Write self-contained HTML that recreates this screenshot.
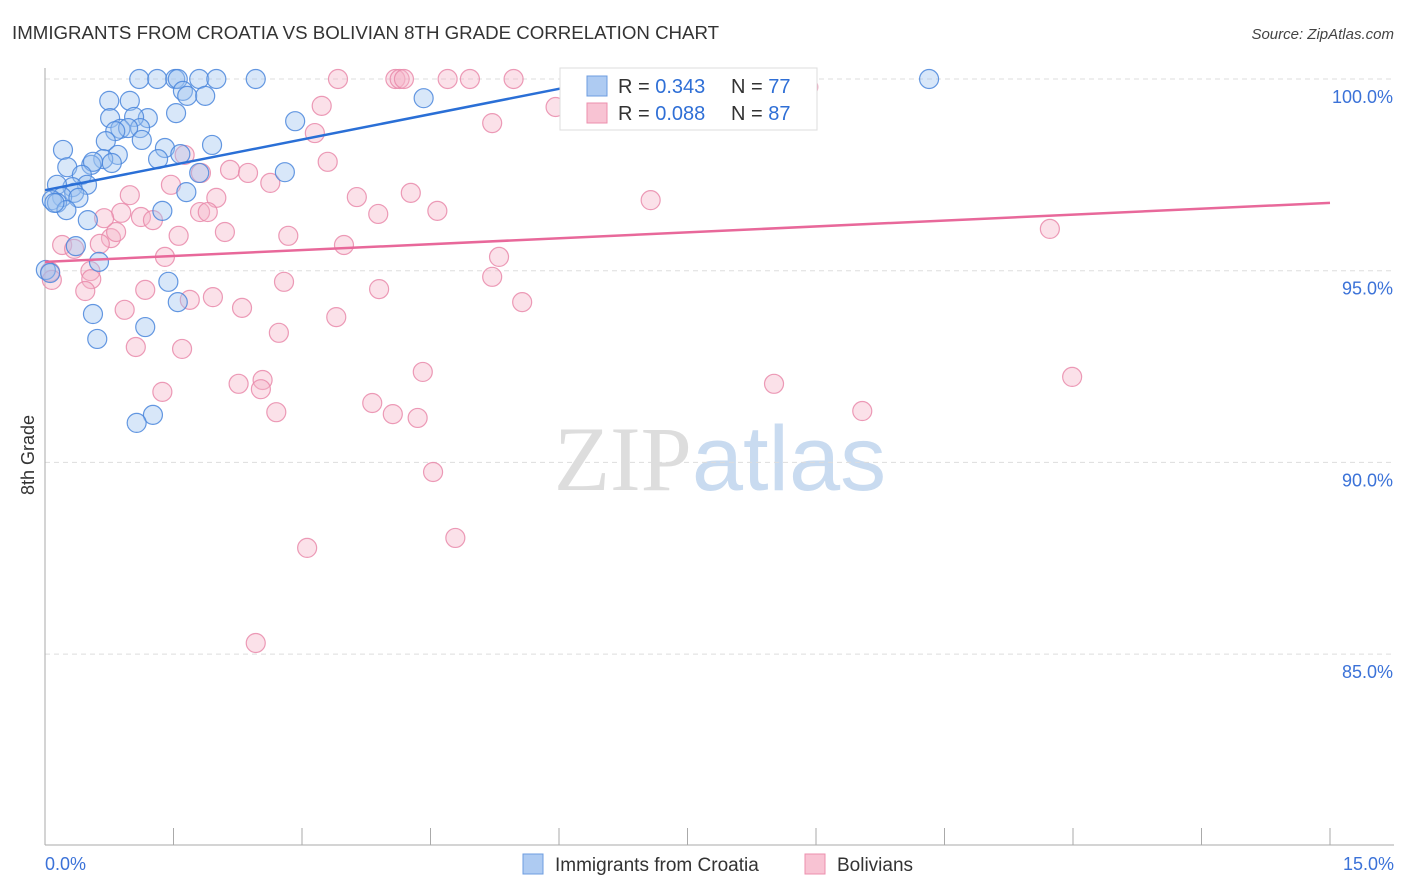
<!DOCTYPE html>
<html><head><meta charset="utf-8"><style>
body{margin:0;background:#fff;font-family:"Liberation Sans",sans-serif}
svg{display:block}
</style></head><body>
<svg id="chart" width="1406" height="892" xmlns="http://www.w3.org/2000/svg" font-family="Liberation Sans, sans-serif">
<text x="12" y="39" font-size="18.7" fill="#333">IMMIGRANTS FROM CROATIA VS BOLIVIAN 8TH GRADE CORRELATION CHART</text>
<text x="1394" y="39" font-size="15" fill="#444" font-style="italic" text-anchor="end">Source: ZipAtlas.com</text>
<text x="720" y="490" font-size="92" text-anchor="middle"><tspan fill="#ddd" font-family="Liberation Serif, serif">ZIP</tspan><tspan fill="#c9dbf0">atlas</tspan></text>
<text transform="translate(34,455) rotate(-90)" font-size="18" fill="#333" text-anchor="middle">8th Grade</text>
<g id="grid"></g><g id="axes"></g><g id="pts"></g><g id="trends"></g>
<g>
<rect x="560" y="68" width="257" height="62" fill="#fff" stroke="#ddd"/>
<rect x="587" y="76" width="20" height="20" fill="#aecbf2" stroke="#6d9de0"/>
<text x="618" y="93" font-size="20" fill="#333">R = <tspan fill="#2f6fd6">0.343</tspan></text>
<text x="731" y="93" font-size="20" fill="#333">N = <tspan fill="#2f6fd6">77</tspan></text>
<rect x="587" y="103" width="20" height="20" fill="#f8c3d3" stroke="#ec8fae"/>
<text x="618" y="120" font-size="20" fill="#333">R = <tspan fill="#2f6fd6">0.088</tspan></text>
<text x="731" y="120" font-size="20" fill="#333">N = <tspan fill="#2f6fd6">87</tspan></text>
</g>
<g>
<rect x="523" y="854" width="20" height="20" fill="#aecbf2" stroke="#6d9de0"/>
<text x="555" y="871" font-size="19" fill="#333">Immigrants from Croatia</text>
<rect x="805" y="854" width="20" height="20" fill="#f8c3d3" stroke="#ec8fae"/>
<text x="837" y="871" font-size="19" fill="#333">Bolivians</text>
</g>
</svg>
<script>
const xTicks=[0,1.5,3,4.5,6,7.5,9,10.5,12,13.5,15];
const yTicks=[100,95,90,85];
const yTickLabels=["100.0%","95.0%","90.0%","85.0%"];
const xEndLabels=["0.0%","15.0%"];
const croatiaX=[1.10,1.31,1.52,1.55,1.80,2.00,2.46,10.32,7.48,1.61,1.66,1.87,0.75,0.99,4.42,1.53,1.20,1.04,0.76,2.92,0.88,1.11,0.97,0.82,1.95,0.71,1.13,0.85,1.40,1.58,1.32,0.68,0.21,0.54,0.78,0.26,0.56,2.80,1.80,0.43,0.49,0.32,0.14,0.34,0.20,0.08,0.14,0.39,0.25,0.11,0.50,1.37,1.65,0.36,0.63,0.01,0.06,1.44,0.56,1.55,1.17,0.61,1.26,1.07];
const croatiaY=[100,100,100,100,100,100,100,100,100,99.69,99.56,99.56,99.43,99.43,99.50,99.11,98.98,99.01,98.98,98.90,98.70,98.72,98.72,98.64,98.28,98.38,98.41,98.02,98.20,98.04,97.91,97.91,98.15,97.76,97.81,97.70,97.84,97.57,97.55,97.50,97.24,97.18,97.24,97.03,96.92,96.84,96.77,96.90,96.58,96.77,96.32,96.56,97.05,95.64,95.23,95.02,94.94,94.71,93.87,94.18,93.53,93.22,91.24,91.03];
const bolX=[3.42,4.09,4.14,4.19,4.70,4.96,5.47,8.08,8.91,5.96,3.23,5.22,3.15,3.30,1.63,2.16,2.37,1.82,1.47,2.63,0.99,2.00,3.64,4.27,3.89,4.58,7.07,0.89,0.69,1.12,1.26,1.81,1.90,2.10,0.77,0.83,1.56,2.84,3.49,0.20,0.34,0.64,1.40,5.30,11.73,0.53,0.06,0.08,0.54,2.79,3.90,5.22,0.47,1.17,1.96,1.69,5.57,2.30,0.93,3.40,2.73,1.06,1.60,4.41,2.26,2.54,2.52,8.51,11.99,1.37,3.82,2.70,4.06,4.35,9.54,4.53,3.06,4.79,2.46];
const bolY=[100,100,100,100,100,100,100,100,99.79,99.27,99.30,98.85,98.59,97.84,98.02,97.63,97.55,97.55,97.24,97.29,96.97,96.90,96.92,97.03,96.48,96.56,96.84,96.51,96.37,96.40,96.32,96.53,96.53,96.01,95.85,96.01,95.91,95.91,95.67,95.67,95.57,95.70,95.36,95.36,96.09,94.99,94.97,94.76,94.78,94.71,94.52,94.84,94.47,94.50,94.31,94.24,94.18,94.03,93.98,93.79,93.38,93.01,92.96,92.36,92.05,92.15,91.91,92.05,92.23,91.84,91.55,91.31,91.26,91.16,91.34,89.75,87.77,88.03,85.29];
const croatiaTrend=[[0,97.1],[6.4,99.92]];
const bolTrend=[[0,95.23],[15,96.77]];
const NS="http://www.w3.org/2000/svg";
const X=v=>45+v/15*1285;
const Y=v=>79+(100-v)/5*191.7;
function mk(t,p,a){const e=document.createElementNS(NS,t);for(const k in a)e.setAttribute(k,a[k]);p.appendChild(e);return e;}
const grid=document.getElementById('grid'),axes=document.getElementById('axes'),pts=document.getElementById('pts'),tr=document.getElementById('trends');
yTicks.forEach((v,i)=>{
 const l=mk('line',grid,{x1:45,x2:1394,y1:Y(v),y2:Y(v),stroke:'#ddd','stroke-dasharray':'5,4'});
 
 
 const t=mk('text',axes,{x:1393,y:Y(v)+24,'font-size':18,fill:'#3b72d8','text-anchor':'end'});
 t.textContent=yTickLabels[i];
 
 
});
const ax=mk('line',axes,{x1:45,x2:45,y1:68,y2:845,stroke:'#aaa'});


const bx=mk('line',axes,{x1:45,x2:1394,y1:845,y2:845,stroke:'#aaa'});


xTicks.forEach(v=>{
 const l=mk('line',axes,{x1:X(v),x2:X(v),y1:828,y2:845,stroke:'#aaa'});
 
 
});
[[0,'start',45],[15,'end',1394]].forEach((d,i)=>{
 const t=mk('text',axes,{x:d[2],y:870,'font-size':18,fill:'#3b72d8','text-anchor':d[1]});
 t.textContent=xEndLabels[i];
 
 
});
function dots(xs,ys,fill,stroke,name){xs.forEach((x,i)=>{
 const c=mk('circle',pts,{cx:X(x),cy:Y(ys[i]),r:9.5,fill:fill,'fill-opacity':0.4,stroke:stroke,'stroke-width':1.2,'stroke-opacity':0.85});
 
 
});}
dots(bolX,bolY,'#f6b5c9','#e98aaa','point-bolivians');
dots(croatiaX,croatiaY,'#9dc2f0','#4a86dc','point-croatia');
const t1=mk('line',tr,{x1:X(croatiaTrend[0][0]),y1:Y(croatiaTrend[0][1]),x2:X(croatiaTrend[1][0]),y2:Y(croatiaTrend[1][1]),stroke:'#2a6fd6','stroke-width':2.5});


const t2=mk('line',tr,{x1:X(bolTrend[0][0]),y1:Y(bolTrend[0][1]),x2:X(bolTrend[1][0]),y2:Y(bolTrend[1][1]),stroke:'#e8689a','stroke-width':2.5});


</script>
</body></html>
